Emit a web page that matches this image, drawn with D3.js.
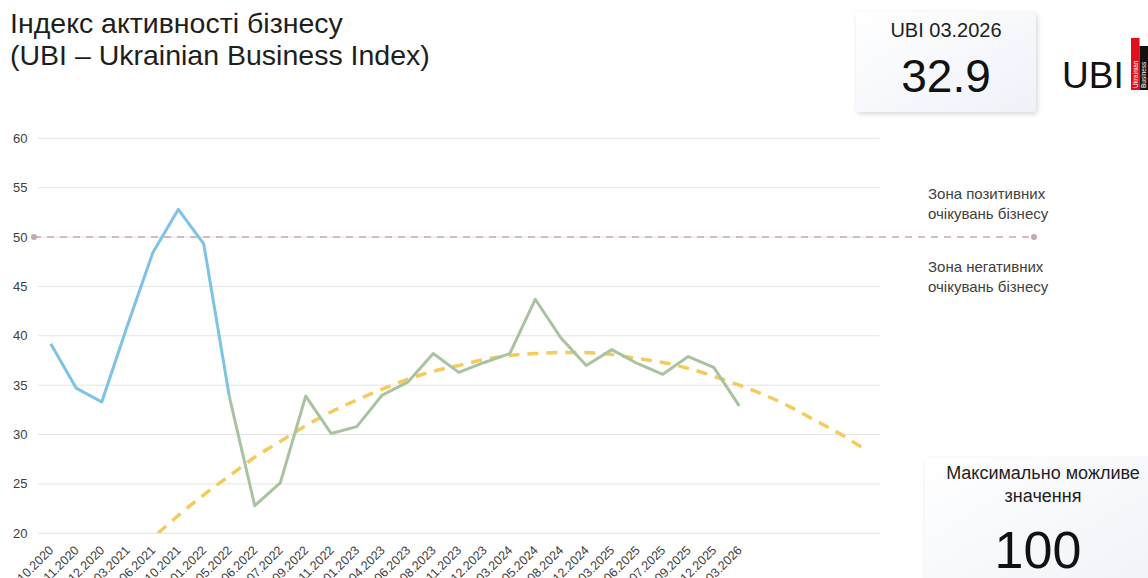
<!DOCTYPE html>
<html>
<head>
<meta charset="utf-8">
<script src="https://cdn.jsdelivr.net/npm/d3@7/dist/d3.min.js"></script>
<style>
  html, body { margin: 0; padding: 0; background: #fff; }
  svg { display: block; font-family: "Liberation Sans", Arial, sans-serif; }
</style>
</head>
<body>
<svg id="chart" width="1148" height="578"></svg>
<script>
// survey months (x categories)
const categories = [
  '10.2020', '11.2020', '12.2020', '03.2021', '06.2021', '10.2021', '01.2022',
  '05.2022', '06.2022', '07.2022', '09.2022', '11.2022', '01.2023', '04.2023',
  '06.2023', '08.2023', '11.2023', '12.2023', '03.2024', '05.2024', '08.2024',
  '12.2024', '03.2025', '06.2025', '07.2025', '09.2025', '12.2025', '03.2026',
];

// UBI 10.2020 – 05.2022
const ubiEarly = [39.2, 34.7, 33.3, 41.0, 48.4, 52.8, 49.3, 33.9];
// UBI 05.2022 – 03.2026
const ubiLate = [
  33.9, 22.8, 25.1, 33.9, 30.1, 30.8, 34.0, 35.3, 38.2, 36.3, 37.3,
  38.2, 43.7, 39.8, 37.0, 38.6, 37.2, 36.1, 37.9, 36.8, 32.9,
];
const lateStart = 7;

// trend line, position in category slots
const trendPos = [4.2, 5, 6, 7, 8, 9, 10, 11, 12, 13, 14, 15, 16, 17, 18,
  19, 20, 21, 22, 23, 24, 25, 26, 27, 28, 29, 30, 31, 31.8];
const trendValues = [20.0, 21.8, 23.9, 25.8, 27.7, 29.3, 30.9, 32.3, 33.5, 34.6,
  35.6, 36.4, 37.0, 37.6, 38.0, 38.2, 38.3, 38.3, 38.1, 37.7, 37.3, 36.7, 35.9,
  35.0, 34.0, 32.8, 31.4, 30.0, 28.7];

const yTicks = [20, 25, 30, 35, 40, 45, 50, 55, 60];
const neutralLevel = 50;
const slotCount = 33; // categories + empty forecast slots

const svg = d3.select('#chart');

const x = d3.scaleLinear().domain([-0.5, slotCount - 0.5]).range([38, 879.5]);
const y = d3.scaleLinear().domain([20, 60]).range([533.3, 138.3]);

const defs = svg.append('defs');
defs.append('clipPath').attr('id', 'plot-clip')
  .append('rect').attr('x', 38).attr('y', 130).attr('width', 842).attr('height', 403.3);

const shadow = defs.append('filter').attr('id', 'card-shadow')
  .attr('x', '-20%').attr('y', '-20%').attr('width', '140%').attr('height', '140%');
shadow.append('feDropShadow').attr('dx', 1.5).attr('dy', 2).attr('stdDeviation', 2.5)
  .attr('flood-color', '#000').attr('flood-opacity', 0.16);

const cardFill = defs.append('linearGradient').attr('id', 'card-fill')
  .attr('x1', 0).attr('y1', 0).attr('x2', 1).attr('y2', 1);
cardFill.append('stop').attr('offset', 0).attr('stop-color', '#ffffff');
cardFill.append('stop').attr('offset', 1).attr('stop-color', '#eef2f8');

// title
const title = svg.append('text').attr('fill', '#1e1e1e').attr('font-size', 28.5);
title.append('tspan').attr('x', 10).attr('y', 33).text('Індекс активності бізнесу');
title.append('tspan').attr('x', 10).attr('y', 65).text('(UBI – Ukrainian Business Index)');

// y grid + labels
const grid = svg.append('g');
grid.selectAll('line').data(yTicks).enter().append('line')
  .attr('x1', 38).attr('x2', 879.5)
  .attr('y1', (d) => y(d)).attr('y2', (d) => y(d))
  .attr('stroke', '#e3e3e3').attr('stroke-width', 1);
grid.selectAll('text').data(yTicks).enter().append('text')
  .attr('x', 27.5).attr('y', (d) => y(d)).attr('dy', '0.35em')
  .attr('text-anchor', 'end').attr('font-size', 13).attr('fill', '#404040')
  .text((d) => d);

// x labels (cut by the bottom edge, as in the original slide)
svg.append('g').selectAll('text').data(categories).enter().append('text')
  .attr('transform', (d, i) => `translate(${x(i) + 3.5}, 551) rotate(-45)`)
  .attr('text-anchor', 'end').attr('font-size', 12.5).attr('fill', '#404040')
  .text((d) => d);

// neutral 50 line
svg.append('line')
  .attr('x1', 34).attr('x2', 1034).attr('y1', y(neutralLevel)).attr('y2', y(neutralLevel))
  .attr('stroke', '#c7a9b2').attr('stroke-width', 1.5).attr('stroke-dasharray', '7 6');
svg.selectAll('circle.end').data([34, 1034]).enter().append('circle')
  .attr('class', 'end').attr('cx', (d) => d).attr('cy', y(neutralLevel)).attr('r', 3)
  .attr('fill', '#c7a9b2');

// zone notes
const notes = svg.append('g').attr('font-size', 15).attr('fill', '#404040');
[['Зона позитивних', 199], ['очікувань бізнесу', 219], ['Зона негативних', 272], ['очікувань бізнесу', 292]]
  .forEach(([t, yy]) => notes.append('text').attr('x', 928).attr('y', yy).text(t));

// trend
const trendLine = d3.line().x((d) => x(d[0])).y((d) => y(d[1])).curve(d3.curveMonotoneX);
svg.append('path')
  .datum(trendPos.map((p, i) => [p, trendValues[i]]))
  .attr('clip-path', 'url(#plot-clip)')
  .attr('fill', 'none').attr('stroke', '#f6cb5e').attr('stroke-width', 3.5)
  .attr('stroke-dasharray', '11 8').attr('d', trendLine);

const valueLine = d3.line().x((d) => x(d[0])).y((d) => y(d[1]));

svg.append('path')
  .datum(ubiEarly.map((v, i) => [i, v]))
  .attr('fill', 'none').attr('stroke', '#7ec2e6').attr('stroke-width', 3)
  .attr('stroke-linejoin', 'round').attr('d', valueLine);

svg.append('path')
  .datum(ubiLate.map((v, i) => [i + lateStart, v]))
  .attr('fill', 'none').attr('stroke', '#a9c3a0').attr('stroke-width', 3)
  .attr('stroke-linejoin', 'round').attr('d', valueLine);

// latest value card
const latest = ubiLate[ubiLate.length - 1];
const card = svg.append('g');
card.append('rect').attr('x', 856).attr('y', 12).attr('width', 180).attr('height', 100)
  .attr('rx', 4).attr('fill', 'url(#card-fill)').attr('filter', 'url(#card-shadow)');
card.append('text').attr('x', 946).attr('y', 37).attr('text-anchor', 'middle')
  .attr('font-size', 20).attr('fill', '#1e1e1e').text(`UBI ${categories[categories.length - 1]}`);
card.append('text').attr('x', 946).attr('y', 92).attr('text-anchor', 'middle')
  .attr('font-size', 46).attr('fill', '#111').text(latest.toFixed(1));

// logo
const logo = svg.append('g');
logo.append('text').attr('x', 1062).attr('y', 88).attr('font-size', 37).attr('fill', '#111').text('UBI');
logo.append('rect').attr('x', 1131).attr('y', 38).attr('width', 8.5).attr('height', 52).attr('fill', '#e3101c');
logo.append('rect').attr('x', 1139.5).attr('y', 46).attr('width', 8.5).attr('height', 44).attr('fill', '#111');
logo.append('text').attr('transform', 'translate(1137.5, 88) rotate(-90)')
  .attr('font-size', 6.5).attr('fill', '#fff').text('Ukrainian');
logo.append('text').attr('transform', 'translate(1146, 88) rotate(-90)')
  .attr('font-size', 6.5).attr('fill', '#fff').text('Business');

// max value card
const maxCard = svg.append('g');
maxCard.append('rect').attr('x', 925).attr('y', 458).attr('width', 240).attr('height', 140)
  .attr('rx', 4).attr('fill', 'url(#card-fill)').attr('filter', 'url(#card-shadow)');
maxCard.append('text').attr('x', 1043).attr('y', 479).attr('text-anchor', 'middle')
  .attr('font-size', 18).attr('fill', '#1e1e1e').text('Максимально можливе');
maxCard.append('text').attr('x', 1043).attr('y', 502).attr('text-anchor', 'middle')
  .attr('font-size', 18).attr('fill', '#1e1e1e').text('значення');
maxCard.append('text').attr('x', 1038).attr('y', 568).attr('text-anchor', 'middle')
  .attr('font-size', 52).attr('fill', '#111').text(100);
</script>
</body>
</html>
